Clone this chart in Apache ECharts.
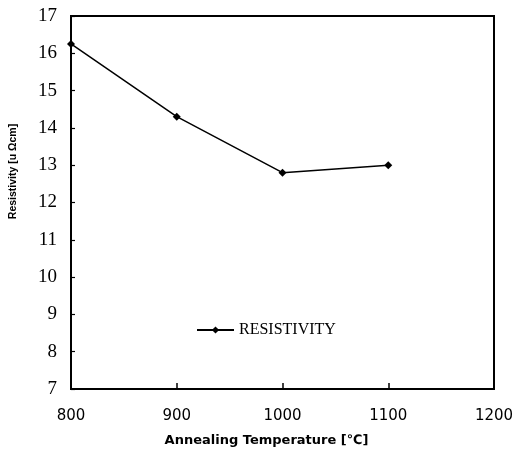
<!DOCTYPE html>
<html><head><meta charset="utf-8">
<script src="https://cdn.jsdelivr.net/npm/echarts@6/dist/echarts.min.js"></script>
<style>html,body{margin:0;padding:0;background:#fff}#c{width:517px;height:454px}</style>
</head><body><div id="c"></div>
<script>
const temps = [800, 900, 1000, 1100];
const resistivity = [16.25, 14.3, 12.8, 13.0];
const seriesName = 'RESISTIVITY';
const xTitle = 'Annealing Temperature [℃]';
const yTitle = 'Resistivity [u Ωcm]';

const chart = echarts.init(document.getElementById('c'));
const serif = 'Liberation Serif';
const sans = 'DejaVu Sans';
chart.setOption({
  animation: false,
  backgroundColor: '#fff',
  grid: {left: 70, right: 23, top: 16, bottom: 65, show: true, borderColor: '#000', borderWidth: 2, backgroundColor: 'transparent'},
  legend: {
    data: [seriesName], left: 191, top: 317, itemWidth: 37, itemHeight: 9, itemGap: 7,
    textStyle: {fontFamily: serif, fontSize: 16, color: '#000'}
  },
  xAxis: {
    type: 'value', min: 800, max: 1200, interval: 100,
    name: xTitle, nameLocation: 'middle', nameGap: 45,
    nameTextStyle: {fontFamily: sans, fontWeight: 'bold', fontSize: 13, color: '#000', padding: [0, 32, 0, 0]},
    axisLine: {show: true, lineStyle: {color: '#000', width: 2}},
    axisTick: {show: true, inside: true, length: 6, lineStyle: {color: '#000', width: 1.5}},
    axisLabel: {fontFamily: sans, fontSize: 15, color: '#000', margin: 20, formatter: v => String(v)},
    splitLine: {show: false}
  },
  yAxis: {
    type: 'value', min: 7, max: 17, interval: 1,
    name: yTitle, nameLocation: 'middle', nameGap: 52, nameRotate: 90,
    nameTextStyle: {fontFamily: 'Liberation Sans', fontWeight: 'bold', fontSize: 10.5, color: '#000', padding: [0, 0, 0, 62]},
    axisLine: {show: true, lineStyle: {color: '#000', width: 2}},
    axisTick: {show: true, inside: true, length: 4, lineStyle: {color: '#000', width: 1.2}},
    axisLabel: {fontFamily: serif, fontSize: 19, color: '#000', margin: 14},
    splitLine: {show: false}
  },
  series: [{
    name: seriesName, type: 'line',
    data: temps.map((t, i) => [t, resistivity[i]]),
    symbol: 'diamond', symbolSize: 8,
    lineStyle: {color: '#000', width: 1.5},
    itemStyle: {color: '#000'}
  }]
});
</script></body></html>
